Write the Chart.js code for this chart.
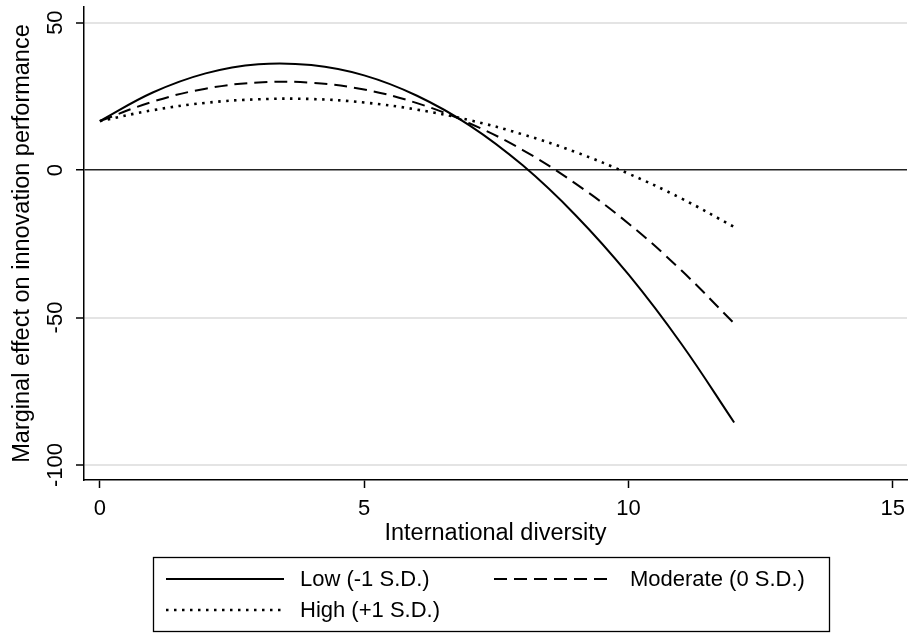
<!DOCTYPE html>
<html>
<head>
<meta charset="utf-8">
<style>
  html, body { margin: 0; padding: 0; background: #fff; }
  #wrap { width: 909px; height: 635px; }
</style>
<script src="https://cdn.jsdelivr.net/npm/chart.js@4/dist/chart.umd.min.js"></script>
</head>
<body>
<div id="wrap"><canvas id="chart" width="909" height="635"></canvas></div>
<script>
// ---------- data ----------
const xValues = [0, 1, 2, 3, 4, 5, 6, 7, 8, 9, 10, 11, 12];
const lowValues = [16.6, 26.3, 32.8, 35.9, 35.6, 32.1, 25.2, 15.1, 1.6, -15.3, -35.4, -58.9, -85.6];
const moderateValues = [16.6, 23.2, 27.6, 29.7, 29.6, 27.3, 22.7, 15.8, 6.8, -4.6, -18.1, -34.0, -52.0];
const highValues = [16.6, 20.3, 22.8, 24.0, 24.1, 22.9, 20.5, 16.9, 12.1, 6.1, -1.2, -9.6, -19.3];

const seriesLabels = ['Low (-1 S.D.)', 'Moderate (0 S.D.)', 'High (+1 S.D.)'];
const xTicks = [0, 5, 10, 15];
const yTicks = [-100, -50, 0, 50];
const xTitle = 'International diversity';
const yTitle = 'Marginal effect on innovation performance';

const FONT = '"Liberation Sans", Arial, sans-serif';
const dashes = [[], [13, 7], [2.5, 5.5]];
const widths = [2, 2, 2.6];

function toPoints(vals){ return vals.map((v, i) => ({x: xValues[i], y: v})); }

// y tick labels, rotated like the Stata original
const yLabelPlugin = {
  id: 'yLabels',
  afterDraw(chart){
    const c = chart.ctx, s = chart.scales.y;
    c.save();
    c.font = '22px ' + FONT;
    c.fillStyle = '#000';
    c.textAlign = 'center';
    c.textBaseline = 'middle';
    s.ticks.forEach(t => {
      const py = s.getPixelForValue(t.value);
      c.save();
      c.translate(56, py);
      c.rotate(-Math.PI/2);
      c.fillText(String(t.value), 0, 0);
      c.restore();
    });
    c.restore();
  }
};

// boxed legend at the bottom, two columns
const legendPlugin = {
  id: 'boxLegend',
  afterDraw(chart){
    const c = chart.ctx;
    c.save();
    c.strokeStyle = '#000';
    c.lineWidth = 1.3;
    c.strokeRect(153.5, 557.5, 676, 74);
    const spots = [{x:166, y:579}, {x:494, y:579}, {x:166, y:610}];
    c.font = '22px ' + FONT;
    c.fillStyle = '#000';
    c.textBaseline = 'middle';
    chart.data.datasets.forEach((ds, i) => {
      const p = spots[i];
      c.beginPath();
      c.setLineDash(ds.borderDash || []);
      c.lineWidth = ds.borderWidth;
      c.moveTo(p.x, p.y);
      c.lineTo(p.x + 118, p.y);
      c.stroke();
      c.setLineDash([]);
      c.fillText(ds.label, i === 1 ? 630 : 300, p.y + 1);
    });
    c.restore();
  }
};

new Chart(document.getElementById('chart'), {
  type: 'line',
  data: {
    datasets: [lowValues, moderateValues, highValues].map((vals, i) => ({
      label: seriesLabels[i],
      data: toPoints(vals),
      borderColor: '#000',
      borderWidth: widths[i],
      borderDash: dashes[i],
      pointRadius: 0,
      tension: 0.4,
      fill: false
    }))
  },
  options: {
    responsive: false,
    animation: false,
    layout: { padding: { top: 7, right: 2, bottom: 80, left: 0 } },
    plugins: { legend: { display: false }, tooltip: { enabled: false } },
    scales: {
      x: {
        type: 'linear',
        min: -0.3,
        max: 15.27,
        afterBuildTicks: s => { s.ticks = xTicks.map(v => ({value: v})); },
        afterFit: s => { s.height = 75; s.paddingLeft = 0; s.paddingRight = 0; },
        grid: { drawOnChartArea: false, drawTicks: true, tickLength: 8, tickColor: '#000', tickWidth: 1.5 },
        border: { display: true, color: '#000', width: 1.5 },
        ticks: { color: '#000', font: { family: FONT, size: 22 }, padding: 8, maxRotation: 0 },
        title: { display: true, text: xTitle, color: '#000', font: { family: FONT, size: 23.5 }, padding: { top: 0, bottom: 7 } }
      },
      y: {
        type: 'linear',
        min: -105.1,
        max: 55.3,
        afterBuildTicks: s => { s.ticks = yTicks.map(v => ({value: v})); },
        afterFit: s => { s.width = 84; s.paddingTop = 0; s.paddingBottom = 0; },
        grid: {
          drawOnChartArea: true,
          drawTicks: true,
          tickLength: 8,
          tickColor: '#000',
          tickWidth: 1.5,
          color: ctx => (ctx.tick && ctx.tick.value === 0) ? '#222' : '#e4e4e4',
          lineWidth: ctx => (ctx.tick && ctx.tick.value === 0) ? 1.5 : 2
        },
        border: { display: true, color: '#000', width: 1.5 },
        ticks: { display: false },
        title: { display: true, text: yTitle, color: '#000', font: { family: FONT, size: 23.5 }, padding: { top: 8, bottom: 0 } }
      }
    }
  },
  plugins: [yLabelPlugin, legendPlugin]
});
</script>
</body>
</html>
